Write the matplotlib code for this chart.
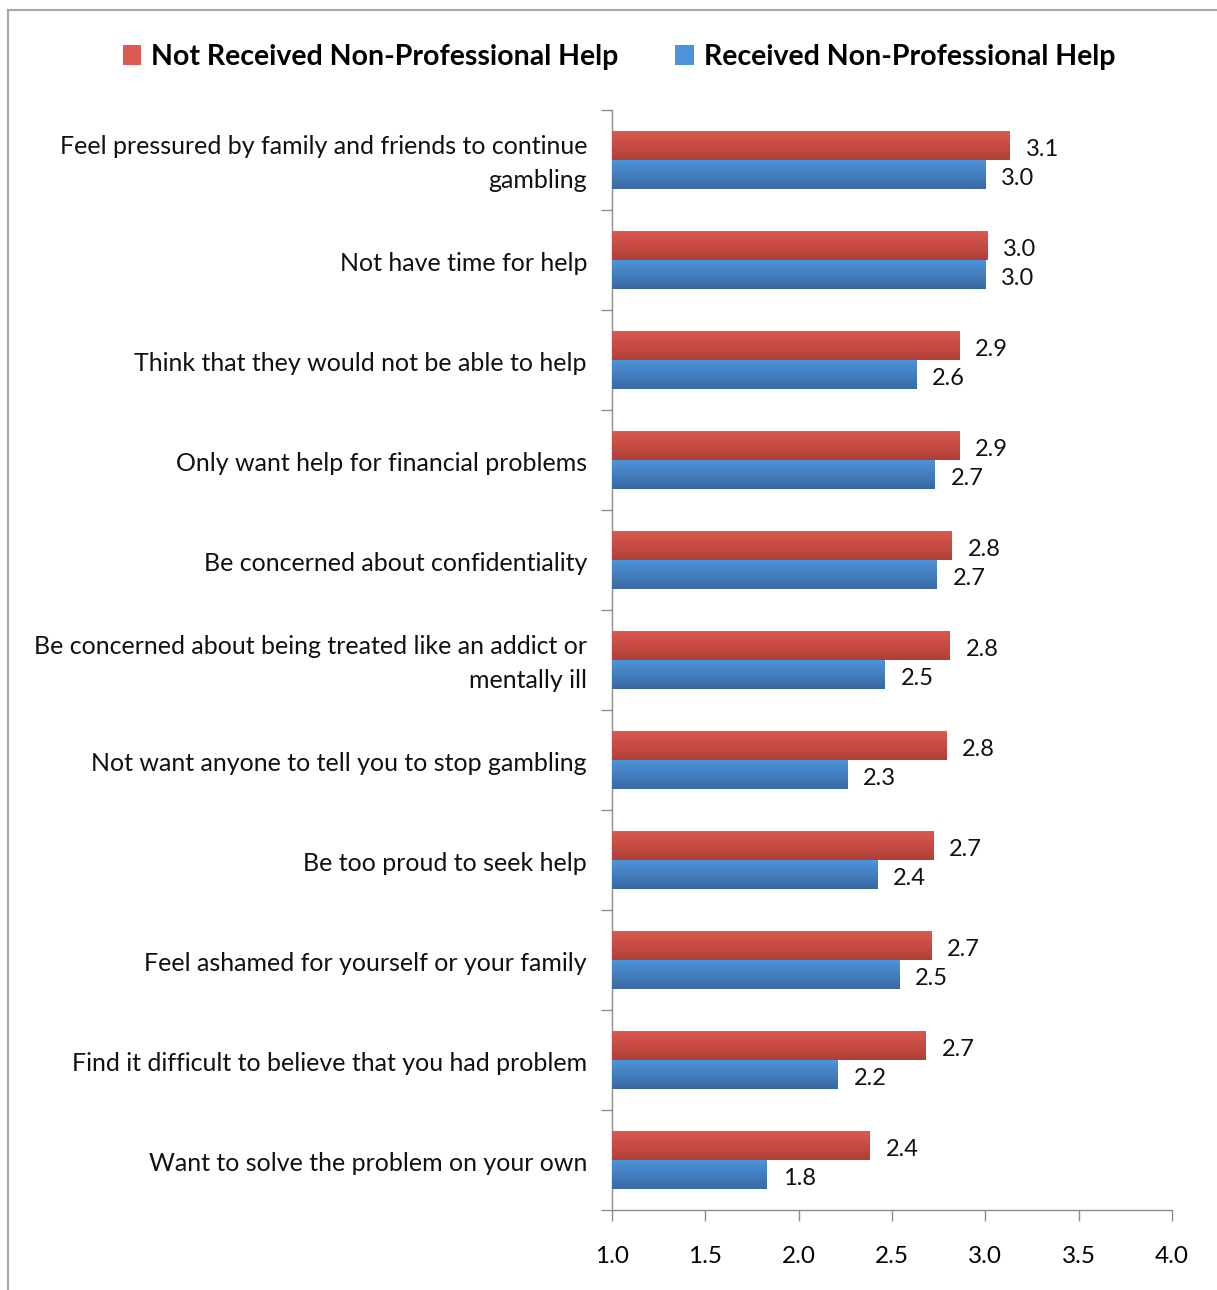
import numpy as np
import matplotlib
matplotlib.use("Agg")
import matplotlib.pyplot as plt
from matplotlib.patches import Rectangle, Patch
from matplotlib.colors import LinearSegmentedColormap

plt.rcParams['font.family'] = ['Lato', 'DejaVu Sans']

# Barreras para buscar ayuda (puntuación media)
categorias = [
    "Feel pressured by family and friends to continue\ngambling",
    "Not have time for help",
    "Think that they would not be able to help",
    "Only want help for financial problems",
    "Be concerned about confidentiality",
    "Be concerned about being treated like an addict or\nmentally ill",
    "Not want anyone to tell you to stop gambling",
    "Be too proud to seek help",
    "Feel ashamed for yourself or your family",
    "Find it difficult to believe that you had problem",
    "Want to solve the problem on your own",
]
no_recibio = [3.13, 3.01, 2.86, 2.86, 2.82, 2.81, 2.79, 2.72, 2.71, 2.68, 2.38]
recibio = [3.00, 3.00, 2.63, 2.73, 2.74, 2.46, 2.26, 2.42, 2.54, 2.21, 1.83]
serie_no = "Not Received Non-Professional Help"
serie_si = "Received Non-Professional Help"
x_ticks = [1.0, 1.5, 2.0, 2.5, 3.0, 3.5, 4.0]

rojo = ("#dc5a51", "#b03e37")
azul = ("#4d93da", "#3869a3")


def barras_degradado(ax, y, valores, base, alto, colores):
    cmap = LinearSegmentedColormap.from_list("g", colores)
    grad = np.linspace(0, 1, 64).reshape(-1, 1)
    for yi, v in zip(y, valores):
        rect = Rectangle((base, yi - alto / 2), v - base, alto,
                         facecolor=colores[1], edgecolor="none", zorder=2)
        ax.add_patch(rect)
        # eje y invertido: la parte de arriba de la barra es yi - alto/2
        img = ax.imshow(grad, cmap=cmap, aspect="auto", zorder=3,
                        extent=(base, v, yi + alto / 2, yi - alto / 2),
                        interpolation="bilinear")
        img.set_clip_path(rect)
        ax.text(v + 0.085, yi + 0.04, f"{v:.1f}", va="center", ha="left",
                fontsize=17, color="#111111", zorder=4)


fig = plt.figure(figsize=(12.17, 12.90), dpi=100)
ax = fig.add_axes([612 / 1217, 1 - 1210 / 1290, 560 / 1217, 1100 / 1290])

n = len(categorias)
y = np.arange(n)
alto = 0.285
barras_degradado(ax, y - 0.143, no_recibio, 1.0, alto, rojo)
barras_degradado(ax, y + 0.143, recibio, 1.0, alto, azul)

ax.set_xlim(1.0, 4.0)
ax.set_ylim(n - 0.5, -0.5)
ax.set_xticks(x_ticks)
ax.set_xticklabels([f"{t:.1f}" for t in x_ticks], fontsize=17.5)

# etiquetas de categoría escritas a mano, alineadas a la derecha del eje
ax.set_yticks([])
for yi, texto in zip(y, categorias):
    ax.text(-25 / 560, yi + 0.035, texto, transform=ax.get_yaxis_transform(),
            ha="right", va="center", multialignment="right",
            fontsize=18, linespacing=1.55, color="#111111")
ax.set_yticks(np.arange(n + 1) - 0.5, minor=True)

ax.tick_params(axis="y", which="minor", length=8, width=1, color="#8c8c8c", direction="out")
ax.tick_params(axis="x", which="major", length=8, width=1, color="#8c8c8c", direction="out", pad=18)

for s in ["top", "right"]:
    ax.spines[s].set_visible(False)
for s in ["left", "bottom"]:
    ax.spines[s].set_color("#8c8c8c")
    ax.spines[s].set_linewidth(1)

# Leyenda superior
handles = [Patch(facecolor=rojo[0], edgecolor="none", label=serie_no),
           Patch(facecolor=azul[0], edgecolor="none", label=serie_si)]
fig.legend(handles=handles, loc="center", bbox_to_anchor=(619 / 1217, 1 - 57 / 1290),
           ncol=2, frameon=False, prop={"size": 20.5, "weight": "bold"},
           handlelength=0.65, handleheight=0.65, handletextpad=0.35, columnspacing=2.0)

# Marco gris del gráfico
marco = Rectangle((8 / 1217, -0.05), 1.1, 1 - 10 / 1290 + 0.05, transform=fig.transFigure,
                  fill=False, edgecolor="#a8a8a8", linewidth=1.5)
fig.patches.append(marco)

fig.savefig("out.png", dpi=100, facecolor="white")
